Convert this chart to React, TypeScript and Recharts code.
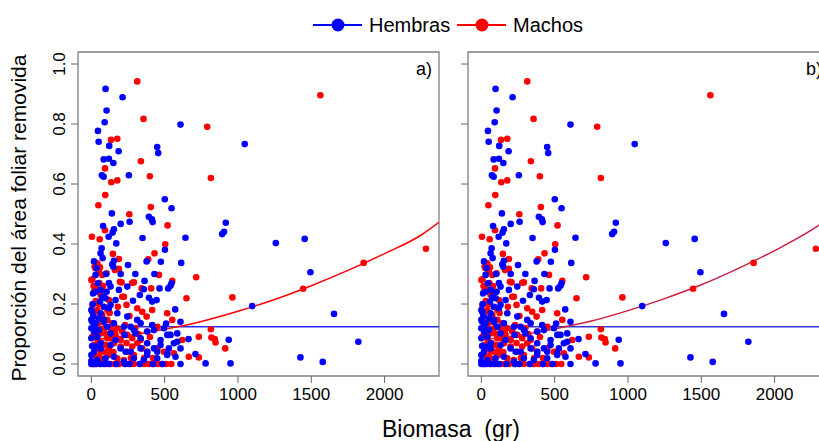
import React from 'react';
import { ComposedChart, Scatter, Line, XAxis, YAxis, ReferenceArea } from 'recharts';

// Hembras: [biomasa (gr), proporcion removida]
const hembras: [number, number][] = [
  [97, 0.917], [213, 0.889], [104, 0.845], [91, 0.806], [45, 0.777], [50, 0.741], [122, 0.727], [186, 0.709],
  [84, 0.682], [120, 0.684], [150, 0.67], [72, 0.629], [84, 0.624], [256, 0.629], [449, 0.723], [456, 0.703],
  [608, 0.798], [1046, 0.733], [140, 0.502], [261, 0.474], [200, 0.467], [80, 0.46], [501, 0.549], [547, 0.519],
  [392, 0.491], [413, 0.482], [418, 0.473], [917, 0.471], [892, 0.433], [905, 0.441], [154, 0.449], [145, 0.438],
  [118, 0.424], [349, 0.42], [642, 0.421], [1258, 0.403], [1455, 0.417], [1494, 0.306], [1097, 0.193], [1655, 0.167],
  [1821, 0.074], [1426, 0.022], [1578, 0.007], [937, 0.081], [710, 0.033], [779, 0.002], [949, 0.002],
  [170, 0.402], [502, 0.381], [70, 0.386], [77, 0.353], [18, 0.342], [154, 0.344], [143, 0.332], [377, 0.342],
  [474, 0.341], [613, 0.337], [63, 0.369],
  [150, 0.324], [29, 0.297], [363, 0.277], [465, 0.252], [524, 0.252], [540, 0.261], [358, 0.249], [393, 0.221],
  [284, 0.211], [572, 0.182], [586, 0.102], [663, 0.083], [63, 0.247], [97, 0.219], [29, 0.241], [131, 0.197],
  [6, 0.174], [52, 0.152], [86, 0.141], [154, 0.136], [222, 0.124], [290, 0.113], [336, 0.136], [381, 0.108],
  [415, 0.13], [495, 0.119], [540, 0.097], [472, 0.063], [529, 0.052], [586, 0.074], [608, 0.052], [449, 0.041],
  [381, 0.041], [336, 0.052], [268, 0.041], [199, 0.052], [131, 0.063], [63, 0.052], [18, 0.041], [41, 0.013],
  [97, 0.019], [154, 0.024], [222, 0.008], [290, 0.019], [358, 0.013], [449, 0.019], [517, 0.03], [18, 0.108],
  [6, 0.141], [12, 0.235], [45, 0.269], [59, 0.208], [75, 0.224], [104, 0.241], [131, 0.258], [165, 0.213],
  [188, 0.247], [245, 0.258], [331, 0.23], [415, 0.208], [445, 0.213], [547, 0.269], [608, 0.141],
  [0, 0.18], [13, 0.158], [29, 0.136], [52, 0.113], [41, 0.091], [63, 0.069], [29, 0.058], [5, 0.06],
  [86, 0.147], [109, 0.124], [131, 0.102], [165, 0.08], [234, 0.041], [268, 0.124], [302, 0.102], [336, 0.086],
  [381, 0.069], [427, 0.052], [472, 0.08], [518, 0.097], [563, 0.069], [510, 0.135], [427, 0.113], [313, 0.147],
  [245, 0.158], [177, 0.169], [120, 0.186], [0, 0.147], [0, 0.119], [0, 0.086], [18, 0.124], [63, 0.169],
  [86, 0.191], [227, 0.097], [381, 0.03], [518, 0.036], [574, 0.024], [10, 0.2], [35, 0.32], [100, 0.3],
  [120, 0.27], [200, 0.3], [250, 0.33], [300, 0.3], [430, 0.3], [0, 0.01], [0, 0.03],
  [0, 0], [15, 0], [30, 0], [60, 0], [90, 0], [120, 0], [170, 0], [230, 0], [260, 0], [330, 0], [420, 0],
  [485, 0], [608, 0],
];

// Machos
const machos: [number, number][] = [
  [313, 0.942], [356, 0.817], [790, 0.791], [134, 0.747], [177, 0.751], [338, 0.676], [93, 0.652], [399, 0.626],
  [815, 0.62], [136, 0.606], [177, 0.612], [95, 0.563], [48, 0.529], [406, 0.523], [259, 0.499], [520, 0.462],
  [93, 0.446], [4, 0.424], [57, 0.416], [1562, 0.896], [1444, 0.251], [1857, 0.337], [2282, 0.384], [715, 0.289],
  [962, 0.222], [815, 0.116], [733, 0.091], [819, 0.088], [842, 0.083], [847, 0.072], [913, 0.052], [733, 0.022],
  [504, 0.399], [431, 0.369], [147, 0.367], [188, 0.35], [388, 0.349], [59, 0.322],
  [29, 0.319], [52, 0.306], [0, 0.28], [188, 0.317], [206, 0.272], [290, 0.272], [461, 0.297], [552, 0.277],
  [343, 0.252], [408, 0.252], [222, 0.224], [649, 0.219], [517, 0.169], [552, 0.147], [665, 0.024],
  [161, 0.313], [22, 0.324], [41, 0.336], [75, 0.297], [7, 0.282], [104, 0.302], [195, 0.274], [279, 0.271],
  [18, 0.241], [63, 0.23], [120, 0.213], [181, 0.191], [211, 0.224], [240, 0.197], [313, 0.186], [347, 0.174],
  [377, 0.158], [415, 0.18], [7, 0.197], [41, 0.18], [75, 0.163], [109, 0.147], [143, 0.136], [177, 0.119],
  [211, 0.108], [245, 0.097], [279, 0.086], [313, 0.069], [347, 0.052], [381, 0.041], [7, 0.147], [29, 0.119],
  [63, 0.102], [109, 0.086], [154, 0.069], [200, 0.058], [245, 0.041], [290, 0.03], [7, 0.091], [18, 0.063],
  [52, 0.052], [86, 0.041], [131, 0.03], [177, 0.019], [222, 0.013], [13, 0.03], [41, 0.024], [63, 0.041],
  [97, 0.063], [131, 0.086], [165, 0.097], [200, 0.08], [279, 0.058], [336, 0.08], [450, 0.052], [495, 0.041],
  [563, 0.036], [620, 0.08], [450, 0.124], [529, 0.097], [381, 0.108],
  [15, 0.26], [35, 0.25], [55, 0.27], [80, 0.26], [95, 0.24], [30, 0.21], [50, 0.2], [85, 0.19], [110, 0.18],
  [125, 0.17], [20, 0.17], [60, 0.14], [90, 0.12], [130, 0.12], [40, 0.13], [25, 0.1], [45, 0.08], [70, 0.07],
  [100, 0.1], [120, 0.05], [150, 0.04], [30, 0.05], [60, 0.02], [90, 0.015], [110, 0.03], [160, 0.11],
  [230, 0.13], [260, 0.16], [300, 0.12], [320, 0.1], [360, 0.02], [420, 0.02], [400, 0.09], [270, 0.02], [240, 0.07],
  [5, 0], [20, 0], [40, 0], [60, 0], [80, 0], [100, 0], [130, 0], [160, 0], [190, 0], [230, 0], [260, 0],
  [290, 0], [330, 0], [360, 0], [390, 0], [420, 0], [450, 0], [480, 0], [510, 0], [545, 0],
];

// fitted curves
const curveX = [0, 250, 500, 750, 1000, 1250, 1500, 1750, 2000, 2250, 2371];
const machosFitA = [0.08, 0.096, 0.116, 0.142, 0.176, 0.215, 0.261, 0.312, 0.368, 0.43, 0.472];
const machosFitB = [0.08, 0.096, 0.117, 0.143, 0.178, 0.218, 0.264, 0.318, 0.378, 0.446, 0.486];
const hembrasFit = [0.124, 0.124, 0.124, 0.124, 0.124, 0.124, 0.124, 0.124, 0.124, 0.124, 0.124];

const xTicks = [0, 500, 1000, 1500, 2000];
const yTicks = [0, 0.2, 0.4, 0.6, 0.8, 1.0];
const xDomain: [number, number] = [-91, 2371];
const yDomain: [number, number] = [-0.04, 1.04];

const FONT = '"Liberation Sans", Arial, Helvetica, sans-serif';

const toPts = (arr: [number, number][]) => arr.map(([x, y]) => ({ x, y }));
const toCurve = (ys: number[]) => curveX.map((x, i) => ({ x, y: ys[i] }));

const XTick = (props: any) => {
  const { x, y, payload } = props;
  return (
    <text x={x} y={y + 17} textAnchor="middle" fontSize={17} fontFamily={FONT} fill="#000">
      {payload.value}
    </text>
  );
};

const YTick = (props: any) => {
  const { x, y, payload } = props;
  const bx = x - 6;
  return (
    <text x={bx} y={y} transform={`rotate(-90, ${bx}, ${y})`} textAnchor="middle" fontSize={17} fontFamily={FONT} fill="#000">
      {payload.value.toFixed(1)}
    </text>
  );
};

const NoTick = () => <g />;

const dot = (color: string) => (p: any) => <circle cx={p.cx} cy={p.cy} r={3.3} fill={color} />;

interface PanelProps {
  left: number;
  width: number;
  yAxisWidth: number;
  right: number;
  showYLabels: boolean;
  redFit: number[];
  redLine: string;
  blueLine: string;
}

const Panel: React.FC<PanelProps> = ({ left, width, yAxisWidth, right, showYLabels, redFit, redLine, blueLine }) => (
  <div style={{ position: 'absolute', left, top: 0 }}>
    <ComposedChart width={width} height={441} margin={{ top: 52, right, bottom: 0, left: 0 }}>
      <XAxis
        type="number"
        dataKey="x"
        domain={xDomain}
        ticks={xTicks}
        allowDataOverflow
        axisLine={false}
        tickSize={7}
        tickMargin={0}
        tickLine={{ stroke: '#666' }}
        tick={<XTick />}
        height={65}
      />
      <YAxis
        type="number"
        dataKey="y"
        domain={yDomain}
        ticks={yTicks}
        allowDataOverflow
        axisLine={false}
        tickSize={7}
        tickMargin={0}
        tickLine={{ stroke: '#666' }}
        tick={showYLabels ? <YTick /> : <NoTick />}
        width={yAxisWidth}
      />
      <Scatter data={toPts(machos)} fill="#ff0000" shape={dot('#ff0000')} isAnimationActive={false} />
      <Scatter data={toPts(hembras)} fill="#0000ff" shape={dot('#0000ff')} isAnimationActive={false} />
      <Line data={toCurve(hembrasFit)} dataKey="y" type="linear" stroke={blueLine} strokeWidth={1.5} dot={false} isAnimationActive={false} />
      <Line data={toCurve(redFit)} dataKey="y" type="monotone" stroke={redLine} strokeWidth={1.5} dot={false} isAnimationActive={false} />
      <ReferenceArea x1={xDomain[0]} x2={xDomain[1]} y1={yDomain[0]} y2={yDomain[1]} fill="none" stroke="#808080" strokeWidth={1.3} />
    </ComposedChart>
  </div>
);

export default function App() {
  return (
    <div style={{ position: 'absolute', left: 0, top: 0, width: 819, height: 441, overflow: 'hidden', background: '#fff' }}>
      <Panel left={0} width={460} yAxisWidth={78} right={21} showYLabels redFit={machosFitA} redLine="#ff0000" blueLine="#2a2aff" />
      <Panel left={440} width={400} yAxisWidth={28} right={11} showYLabels={false} redFit={machosFitB} redLine="#cc1f3f" blueLine="#3535d5" />
      <svg width={819} height={441} style={{ position: 'absolute', left: 0, top: 0, pointerEvents: 'none' }} fontFamily={FONT}>
        {/* legend */}
        <line x1={313} x2={362} y1={25} y2={25} stroke="#0000ff" strokeWidth={2} />
        <circle cx={338} cy={25} r={6.5} fill="#0000ff" />
        <text x={369} y={32} fontSize={20} fill="#000">Hembras</text>
        <line x1={457} x2={506} y1={25} y2={25} stroke="#ff0000" strokeWidth={2} />
        <circle cx={482} cy={25} r={6.5} fill="#ff0000" />
        <text x={513} y={32} fontSize={20} fill="#000">Machos</text>
        {/* panel tags */}
        <text x={432} y={75} fontSize={18} textAnchor="end" fill="#000">a)</text>
        <text x={822} y={75} fontSize={18} textAnchor="end" fill="#000">b)</text>
        {/* axis titles */}
        <text x={451} y={437} fontSize={23} textAnchor="middle" fill="#000" style={{ whiteSpace: 'pre' }}>Biomasa  (gr)</text>
        <text x={26} y={218} fontSize={21} textAnchor="middle" fill="#000" transform="rotate(-90, 26, 218)">
          Proporción del área foliar removida
        </text>
      </svg>
    </div>
  );
}
